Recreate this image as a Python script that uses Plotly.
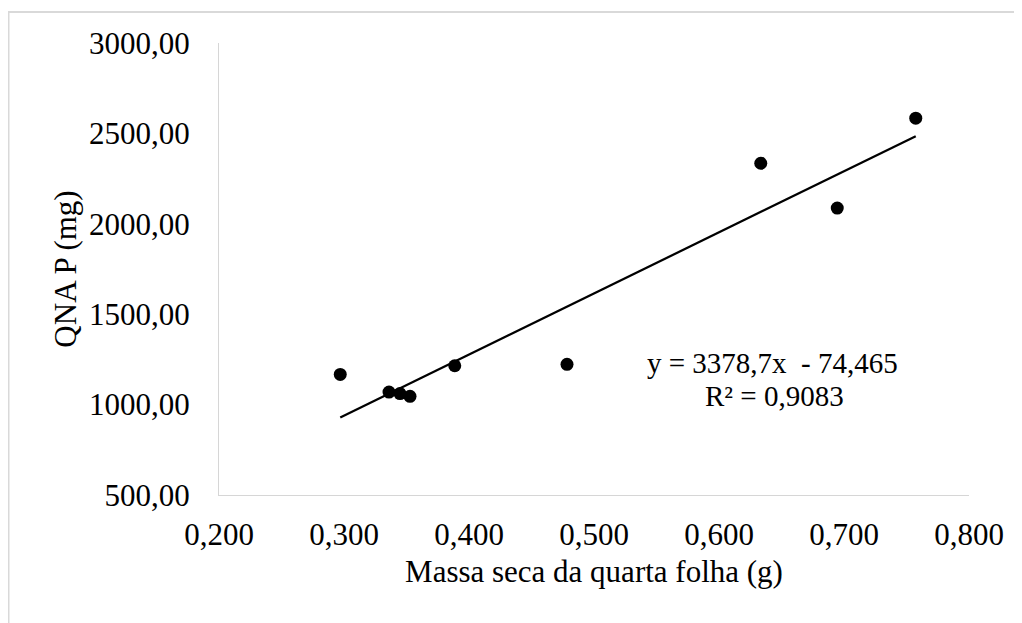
import plotly.graph_objects as go

# Data
massa_seca = [0.297, 0.336, 0.3448, 0.3528, 0.3886, 0.4784, 0.6334, 0.6946, 0.7574]
qna_p = [1167, 1069, 1061, 1046, 1215, 1223, 2335, 2087, 2584]

# Trendline from the chart's equation label
slope = 3378.7
intercept = -74.465
eq_label = "y = 3378,7x\u00a0 - 74,465"
r2_label = "R² = 0,9083"

x_title = "Massa seca da quarta folha (g)"
y_title = "QNA P (mg)"

FONT = "Liberation Serif, Times New Roman, serif"
TXT = dict(family=FONT, size=31, color="black")

x_line = [min(massa_seca), max(massa_seca)]
y_line = [slope * v + intercept for v in x_line]

fig = go.Figure()
fig.add_trace(go.Scatter(x=x_line, y=y_line, mode="lines",
                         line=dict(color="black", width=2.25),
                         hoverinfo="skip", showlegend=False))
fig.add_trace(go.Scatter(x=massa_seca, y=qna_p, mode="markers",
                         marker=dict(color="black", size=13),
                         showlegend=False))

# page body has an 8px margin: plot area target is x 219..969, y 43..495 in the window
L, T = 211, 35
PW, PH = 750, 452
fig.update_layout(
    width=1022, height=623,
    margin=dict(l=L, r=1022 - L - PW, t=T, b=623 - T - PH, autoexpand=False),
    paper_bgcolor="white", plot_bgcolor="white",
    separators=",.",
    font=TXT,
    showlegend=False,
)
fig.update_xaxes(range=[0.2, 0.8], dtick=0.1, tick0=0.2, tickformat=".3f",
                 showgrid=False, zeroline=False, showline=True,
                 linecolor="#d6d6d6", linewidth=1.3, ticks="",
                 tickfont=TXT, ticklabelstandoff=12,
                 title=dict(text=x_title, standoff=8, font=TXT))
fig.update_yaxes(range=[500, 3000], dtick=500, tick0=500, tickformat=".2f",
                 showgrid=False, zeroline=False, showline=True,
                 linecolor="#d6d6d6", linewidth=1.3, ticks="",
                 tickfont=TXT, ticklabelstandoff=22,
                 title=dict(text=y_title, standoff=3, font=TXT))

ann_font = dict(family=FONT, size=29, color="black")
fig.add_annotation(x=0.6424, y=1232, xref="x", yref="y", text=eq_label,
                   showarrow=False, xanchor="center", yanchor="middle",
                   font=ann_font)
fig.add_annotation(x=0.644, y=1046, xref="x", yref="y", text=r2_label,
                   showarrow=False, xanchor="center", yanchor="middle",
                   font=ann_font)

# Outer chart border (light gray, top and left visible)
fig.add_shape(type="rect", xref="paper", yref="paper",
              x0=(8.5 - 8 - L) / PW, y0=-0.4,
              x1=1.2, y1=(T + PH - (12 - 8)) / PH,
              line=dict(color="#d9d9d9", width=2), layer="below")

fig.write_html("out.html")
